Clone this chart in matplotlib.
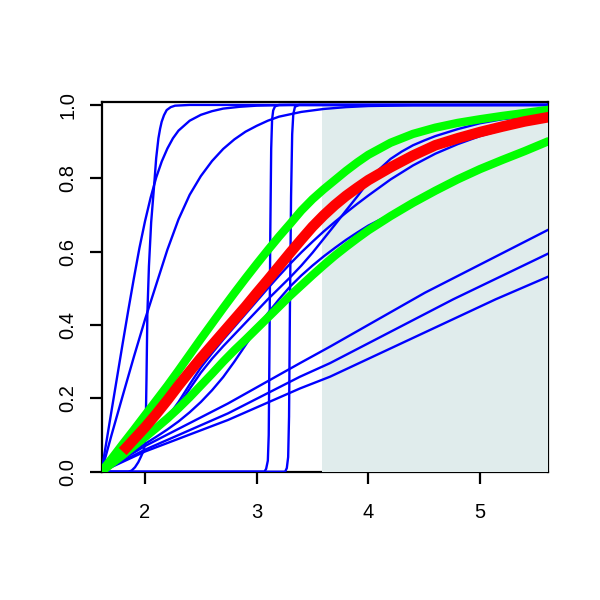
import matplotlib
matplotlib.use("Agg")
import matplotlib.pyplot as plt
from matplotlib.patches import Rectangle

# ---------------- data ----------------
x_ticks = [2, 3, 4, 5]
y_ticks = [0.0, 0.2, 0.4, 0.6, 0.8, 1.0]
y_tick_labels = ["0.0", "0.2", "0.4", "0.6", "0.8", "1.0"]

shade_x0 = 3.585

# steep blue curve near x = 2
blueA_x = [1.61, 1.85, 1.88, 1.91, 1.94, 1.965, 1.985, 1.998, 2.006, 2.013, 2.021, 2.035, 2.055, 2.083,
           2.10, 2.12, 2.135, 2.149, 2.17, 2.194, 2.23, 2.269, 2.40, 5.62]
blueA_y = [0.0, 0.0, 0.003, 0.012, 0.026, 0.042, 0.056, 0.072, 0.12, 0.25, 0.43, 0.56, 0.68, 0.786,
           0.855, 0.909, 0.935, 0.954, 0.972, 0.986, 0.994, 0.998, 1.0, 1.0]

# concave blue curve rising fastest from the origin
blueB_x = [1.61, 1.7, 1.8, 1.85, 1.9, 1.95, 2.0, 2.05, 2.1, 2.15, 2.2, 2.25, 2.3, 2.4, 2.5, 2.6, 2.7, 2.85,
           3.0, 3.3, 5.62]
blueB_y = [0.0, 0.166, 0.35, 0.44, 0.527, 0.61, 0.683, 0.747, 0.802, 0.846, 0.881, 0.909, 0.93, 0.957,
           0.973, 0.983, 0.99, 0.995, 0.998, 1.0, 1.0]

# second concave blue curve
blueC_x = [1.61, 1.7, 1.8, 1.9, 2.0, 2.1, 2.2, 2.3, 2.4, 2.5, 2.6, 2.7, 2.8, 2.9, 3.0, 3.1, 3.2, 3.4,
           3.6, 3.8, 4.0, 4.4, 5.62]
blueC_y = [0.0, 0.10, 0.207, 0.313, 0.415, 0.51, 0.605, 0.688, 0.755, 0.806, 0.847, 0.88, 0.906, 0.927,
           0.943, 0.957, 0.968, 0.981, 0.989, 0.994, 0.997, 0.999, 1.0]

# step near x = 3.12
blueD_x = [1.61, 3.07, 3.085, 3.10, 3.108, 3.115, 3.122, 3.13, 3.138, 3.148, 3.164, 3.20, 5.62]
blueD_y = [0.0, 0.0, 0.008, 0.03, 0.10, 0.35, 0.65, 0.88, 0.96, 0.985, 0.996, 1.0, 1.0]

# step near x = 3.30
blueE_x = [1.61, 3.255, 3.27, 3.282, 3.29, 3.298, 3.308, 3.318, 3.328, 3.343, 3.38, 5.62]
blueE_y = [0.0, 0.0, 0.01, 0.04, 0.15, 0.45, 0.75, 0.92, 0.975, 0.995, 1.0, 1.0]

# middle blue curves (near the red one)
blueM1_x = [1.61, 1.7, 1.8, 1.9, 2.0, 2.1, 2.2, 2.3, 2.4, 2.5, 2.6, 2.7, 2.8, 2.9, 3.0, 3.1, 3.2, 3.3,
            3.4, 3.5, 3.6, 3.7, 3.8, 3.9, 4.0, 4.1, 4.2, 4.3, 4.4, 4.5, 4.6, 4.8, 5.0, 5.2, 5.4, 5.62]
blueM1_y = [0.0, 0.02, 0.04, 0.062, 0.086, 0.112, 0.142, 0.18, 0.226, 0.27, 0.308, 0.342, 0.374, 0.406,
            0.438, 0.47, 0.5, 0.53, 0.562, 0.597, 0.635, 0.673, 0.712, 0.75, 0.79, 0.825, 0.853, 0.873,
            0.89, 0.903, 0.915, 0.934, 0.95, 0.961, 0.968, 0.973]

blueM2_x = [1.61, 1.7, 1.8, 1.9, 2.0, 2.1, 2.2, 2.3, 2.4, 2.5, 2.6, 2.7, 2.8, 2.9, 3.0, 3.1, 3.2, 3.3,
            3.4, 3.5, 3.6, 3.7, 3.8, 3.9, 4.0, 4.2, 4.4, 4.6, 4.8, 5.0, 5.2, 5.4, 5.62]
blueM2_y = [0.0, 0.02, 0.042, 0.065, 0.09, 0.117, 0.148, 0.19, 0.238, 0.284, 0.323, 0.36, 0.395, 0.43,
            0.465, 0.5, 0.534, 0.567, 0.598, 0.627, 0.655, 0.681, 0.706, 0.73, 0.753, 0.797, 0.835,
            0.867, 0.893, 0.915, 0.932, 0.947, 0.959]

blueM3_x = [1.61, 1.7, 1.8, 1.9, 2.0, 2.1, 2.2, 2.3, 2.4, 2.5, 2.6, 2.7, 2.8, 2.9, 3.0, 3.1, 3.2, 3.3,
            3.4, 3.5, 3.6, 3.7, 3.8, 3.9, 4.0, 4.2, 4.4, 4.6, 4.8, 5.0, 5.2, 5.4, 5.62]
blueM3_y = [0.0, 0.018, 0.038, 0.057, 0.076, 0.095, 0.115, 0.137, 0.162, 0.19, 0.222, 0.258, 0.3, 0.345,
            0.39, 0.432, 0.47, 0.505, 0.535, 0.562, 0.587, 0.61, 0.632, 0.652, 0.671, 0.702, 0.735,
            0.765, 0.795, 0.822, 0.848, 0.872, 0.9]

# near-linear lower blue curves
blueL1_x = [1.61, 2.0, 2.743, 3.388, 3.657, 4.507, 5.62]
blueL1_y = [0.0, 0.07, 0.186, 0.296, 0.341, 0.488, 0.661]
blueL2_x = [1.61, 2.0, 2.743, 3.388, 3.657, 4.76, 5.62]
blueL2_y = [0.0, 0.06, 0.159, 0.259, 0.296, 0.470, 0.596]
blueL3_x = [1.61, 2.0, 2.743, 3.388, 3.657, 5.14, 5.62]
blueL3_y = [0.0, 0.055, 0.141, 0.227, 0.259, 0.470, 0.533]

# green band curves
greenU_x = [1.61, 1.7, 1.8, 1.9, 2.0, 2.1, 2.2, 2.3, 2.4, 2.5, 2.6, 2.7, 2.8, 2.9, 3.0, 3.1, 3.2, 3.3,
            3.4, 3.5, 3.6, 3.7, 3.8, 3.9, 4.0, 4.2, 4.4, 4.6, 4.8, 5.0, 5.2, 5.4, 5.62]
greenU_y = [0.0, 0.035, 0.075, 0.114, 0.154, 0.194, 0.234, 0.276, 0.319, 0.362, 0.404, 0.446, 0.487,
            0.527, 0.566, 0.604, 0.641, 0.676, 0.712, 0.743, 0.77, 0.795, 0.82, 0.843, 0.864, 0.897,
            0.921, 0.938, 0.951, 0.961, 0.97, 0.978, 0.987]

greenL_x = [1.61, 1.7, 1.8, 1.9, 2.0, 2.1, 2.2, 2.3, 2.4, 2.5, 2.6, 2.7, 2.8, 2.9, 3.0, 3.1, 3.2, 3.3,
            3.4, 3.5, 3.6, 3.7, 3.8, 3.9, 4.0, 4.2, 4.4, 4.6, 4.8, 5.0, 5.2, 5.4, 5.62]
greenL_y = [0.0, 0.022, 0.045, 0.07, 0.094, 0.119, 0.145, 0.173, 0.203, 0.235, 0.267, 0.3, 0.331, 0.36,
            0.39, 0.42, 0.45, 0.48, 0.508, 0.536, 0.563, 0.589, 0.613, 0.636, 0.658, 0.697, 0.733,
            0.766, 0.797, 0.825, 0.85, 0.874, 0.902]

# red central curve
red_x = [1.80, 1.9, 2.0, 2.1, 2.2, 2.3, 2.4, 2.5, 2.6, 2.7, 2.8, 2.9, 3.0, 3.1, 3.2, 3.3, 3.4, 3.5, 3.6,
         3.7, 3.8, 3.9, 4.0, 4.2, 4.4, 4.6, 4.8, 5.0, 5.2, 5.4, 5.62]
red_y = [0.055, 0.088, 0.121, 0.157, 0.195, 0.235, 0.273, 0.31, 0.345, 0.38, 0.415, 0.45, 0.487, 0.523,
         0.56, 0.597, 0.633, 0.668, 0.699, 0.727, 0.752, 0.774, 0.795, 0.83, 0.862, 0.89, 0.909,
         0.926, 0.941, 0.955, 0.967]

blue_curves = [
    (blueA_x, blueA_y), (blueB_x, blueB_y), (blueC_x, blueC_y),
    (blueD_x, blueD_y), (blueE_x, blueE_y),
    (blueM1_x, blueM1_y), (blueM2_x, blueM2_y), (blueM3_x, blueM3_y),
    (blueL1_x, blueL1_y), (blueL2_x, blueL2_y), (blueL3_x, blueL3_y),
]
green_curves = [(greenU_x, greenU_y), (greenL_x, greenL_y)]

# ---------------- figure ----------------
plt.rcParams['font.family'] = ['Liberation Sans', 'DejaVu Sans']

fig = plt.figure(figsize=(6, 6), dpi=100)
ax = fig.add_axes([101.7 / 600, 128.3 / 600, (548.3 - 101.7) / 600, (498.0 - 128.3) / 600])
ax.set_xlim(1.612, 5.612)
ax.set_ylim(0.0, 1.008)

for s in ax.spines.values():
    s.set_linewidth(1.6)
    s.set_color('black')

# shaded region (clipped to the plot region, drawn over the box edge)
ax.add_patch(Rectangle((shade_x0, -0.1), 3.0, 1.1, facecolor='#E0ECEC',
                       edgecolor='none', zorder=3))

for xs, ys in blue_curves:
    ax.plot(xs, ys, color='#0000FF', lw=1.7, zorder=4, solid_capstyle='butt', solid_joinstyle='round')
for xs, ys in green_curves:
    ax.plot(xs, ys, color='#00FF00', lw=6.0, zorder=5, solid_capstyle='butt', solid_joinstyle='round')
ax.plot(red_x, red_y, color='#FF0000', lw=7.6, zorder=6, solid_capstyle='butt', solid_joinstyle='round')

ax.set_xticks(x_ticks)
ax.set_xticklabels([str(v) for v in x_ticks])
ax.set_yticks(y_ticks)
ax.set_yticklabels(y_tick_labels, rotation=90, va='center')
ax.tick_params(axis='both', direction='out', length=8.6, width=1.6, labelsize=14.5, color='black')
ax.tick_params(axis='x', pad=14)
ax.tick_params(axis='y', pad=9)

fig.savefig('out.png', dpi=100)
